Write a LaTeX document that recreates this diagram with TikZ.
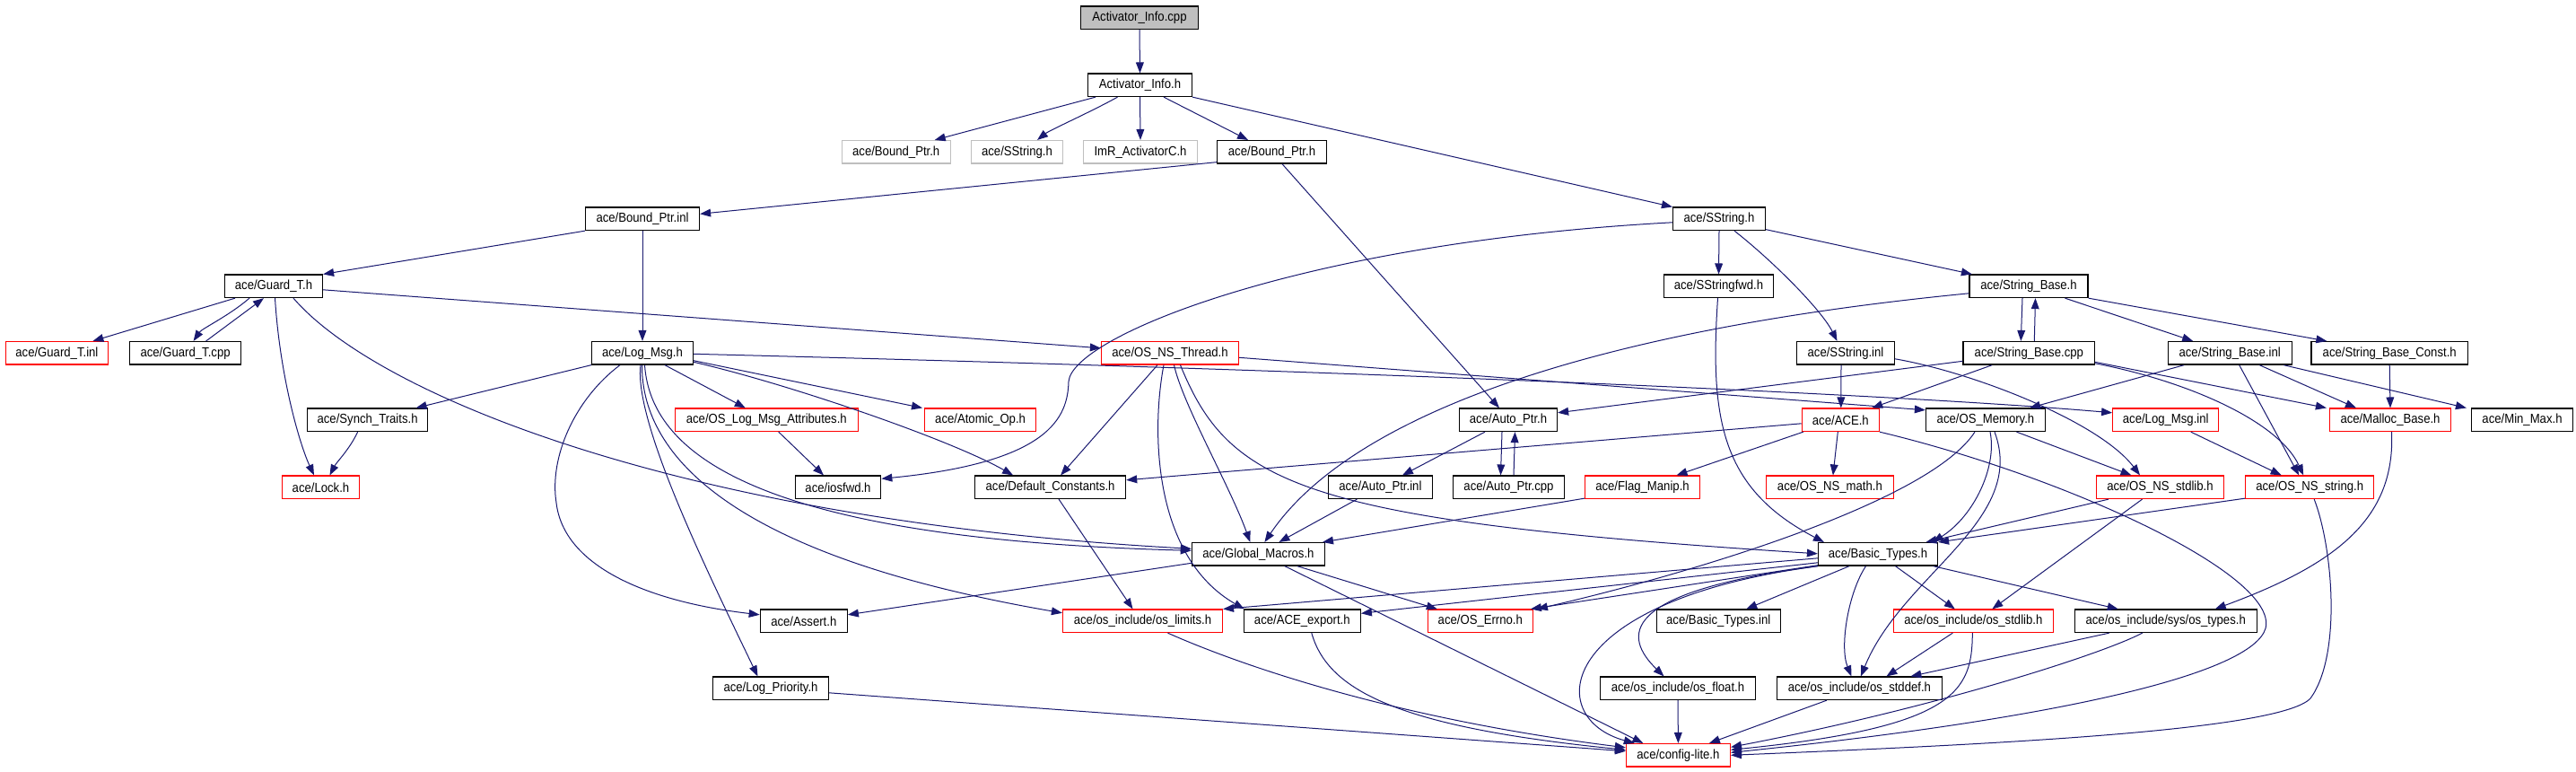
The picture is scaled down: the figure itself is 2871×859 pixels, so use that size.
\documentclass[tikz,border=0pt]{standalone}
\usepackage{fontspec}
\setmainfont{Liberation Sans}[FakeStretch=0.9]
\usetikzlibrary{arrows.meta,calc}
\definecolor{edgeblue}{HTML}{191970}
\definecolor{boxgray}{HTML}{BFBFBF}
\begin{document}
\begin{tikzpicture}[x=0.5pt,y=-0.5pt,
  box/.style={draw=black, line width=0.6pt, inner sep=0pt, minimum height=12.75pt, font=\fontsize{7.3}{8}\selectfont, text=black},
  gbox/.style={box, draw=boxgray},
  rbox/.style={box, draw=red},
  e/.style={draw=edgeblue, line width=0.5pt, -{Triangle[length=6pt,width=4.4pt]}}]
\useasboundingbox[fill=white] (0,0) rectangle (2871,859);
% row 0-1
\node[box, fill=boxgray, minimum width=65.5pt] (cpp) at (1270,19.8) {Activator\_Info.cpp};
\node[box, minimum width=58pt] (ah) at (1270.5,94.8) {Activator\_Info.h};
% row 2
\node[gbox, minimum width=60.5pt] (bphg) at (998.7,169.3) {ace/Bound\_Ptr.h};
\node[gbox, minimum width=51pt] (sshg) at (1133.5,169.3) {ace/SString.h};
\node[gbox, minimum width=63.5pt] (imr) at (1271,169.3) {ImR\_ActivatorC.h};
\node[box, minimum width=61pt] (bph) at (1417.5,169.3) {ace/Bound\_Ptr.h};
% row 3
\node[box, minimum width=63.5pt] (bpi) at (716,243.8) {ace/Bound\_Ptr.inl};
\node[box, minimum width=51.5pt] (ssh) at (1916,243.8) {ace/SString.h};
% row 4
\node[box, minimum width=54.5pt] (gth) at (305,318.8) {ace/Guard\_T.h};
\node[box, minimum width=61pt] (ssfwd) at (1915.5,318.8) {ace/SStringfwd.h};
\node[box, minimum width=66pt] (sbh) at (2261,318.8) {ace/String\_Base.h};
% row 5
\node[rbox, minimum width=57pt] (gti) at (63.4,393.3) {ace/Guard\_T.inl};
\node[box, minimum width=62pt] (gtc) at (206.6,393.3) {ace/Guard\_T.cpp};
\node[box, minimum width=56.5pt] (lmh) at (716,393.3) {ace/Log\_Msg.h};
\node[rbox, minimum width=76.5pt] (nst) at (1304,393.3) {ace/OS\_NS\_Thread.h};
\node[box, minimum width=54.5pt] (ssi) at (2057,393.3) {ace/SString.inl};
\node[box, minimum width=73.25pt] (sbc) at (2261.3,393.3) {ace/String\_Base.cpp};
\node[box, minimum width=69pt] (sbi) at (2485.2,393.3) {ace/String\_Base.inl};
\node[box, minimum width=87.25pt] (sbk) at (2663.2,393.3) {ace/String\_Base\_Const.h};
% row 6
\node[box, minimum width=67pt] (syt) at (409.6,467.8) {ace/Synch\_Traits.h};
\node[rbox, minimum width=102pt] (olma) at (854.3,467.8) {ace/OS\_Log\_Msg\_Attributes.h};
\node[rbox, minimum width=62pt] (aop) at (1092.6,467.8) {ace/Atomic\_Op.h};
\node[box, minimum width=54.5pt] (aph) at (1681,467.8) {ace/Auto\_Ptr.h};
\node[rbox, minimum width=43pt] (ace) at (2051.3,467.8) {ace/ACE.h};
\node[box, minimum width=66.5pt] (osm) at (2213,467.8) {ace/OS\_Memory.h};
\node[rbox, minimum width=59pt] (lmi) at (2413.7,467.8) {ace/Log\_Msg.inl};
\node[rbox, minimum width=67.5pt] (mal) at (2664,467.8) {ace/Malloc\_Base.h};
\node[box, minimum width=56.5pt] (mmx) at (2811,467.8) {ace/Min\_Max.h};
% row 7
\node[rbox, minimum width=43pt] (lock) at (357.5,542.8) {ace/Lock.h};
\node[box, minimum width=47.75pt] (iosf) at (934,542.8) {ace/iosfwd.h};
\node[box, minimum width=84pt] (dc) at (1170.6,542.8) {ace/Default\_Constants.h};
\node[box, minimum width=58pt] (api) at (1538.4,542.8) {ace/Auto\_Ptr.inl};
\node[box, minimum width=62pt] (apc) at (1681.5,542.8) {ace/Auto\_Ptr.cpp};
\node[rbox, minimum width=64pt] (flg) at (1830.5,542.8) {ace/Flag\_Manip.h};
\node[rbox, minimum width=71pt] (math) at (2039.4,542.8) {ace/OS\_NS\_math.h};
\node[rbox, minimum width=71pt] (stdl) at (2407.5,542.8) {ace/OS\_NS\_stdlib.h};
\node[rbox, minimum width=71.5pt] (strg) at (2574.2,542.8) {ace/OS\_NS\_string.h};
% row 8
\node[box, minimum width=74pt] (gm) at (1402.4,617.3) {ace/Global\_Macros.h};
\node[box, minimum width=66.5pt] (bt) at (2093,617.3) {ace/Basic\_Types.h};
% row 9
\node[box, minimum width=48.5pt] (ast) at (895.8,691.8) {ace/Assert.h};
\node[rbox, minimum width=89pt] (lim) at (1273.5,691.8) {ace/os\_include/os\_limits.h};
\node[box, minimum width=65pt] (exp) at (1451.3,691.8) {ace/ACE\_export.h};
\node[rbox, minimum width=58.5pt] (err) at (1649.8,691.8) {ace/OS\_Errno.h};
\node[box, minimum width=69pt] (bti) at (1915.2,691.8) {ace/Basic\_Types.inl};
\node[rbox, minimum width=89pt] (ostd) at (2199.3,691.8) {ace/os\_include/os\_stdlib.h};
\node[box, minimum width=101.5pt] (otyp) at (2413.7,691.8) {ace/os\_include/sys/os\_types.h};
% row 10
\node[box, minimum width=64.5pt] (lp) at (859,766.8) {ace/Log\_Priority.h};
\node[box, minimum width=86.5pt] (flt) at (1870,766.8) {ace/os\_include/os\_float.h};
\node[box, minimum width=92pt] (sdef) at (2072.4,766.8) {ace/os\_include/os\_stddef.h};
% row 11
\node[rbox, minimum width=58pt] (cfg) at (1870.4,841.3) {ace/config-lite.h};

% edges
\draw[e] (cpp.south) -- (ah.north);
\draw[e] ($(ah.south)+(-49.5,0)$) -- ($(bphg.north)+(43,0)$);
\draw[e] ($(ah.south)+(-25,0)$) .. controls (1215,125) and (1170,145) .. ($(sshg.north)+(22.5,0)$);
\draw[e] (ah.south) -- (imr.north);
\draw[e] ($(ah.south)+(26.5,0)$) -- ($(bph.north)+(-26.5,0)$);
\draw[e] (ah.south east) -- (ssh.north west);
\draw[e] ($(bph.south west)+(0,-2)$) -- ($(bpi.east)+(0,-5.5)$);
\draw[e] ($(bph.south)+(11.5,0)$) -- ($(aph.north)+(-10,0)$);
\draw[e] (bpi.south west) -- (gth.north east);
\draw[e] (bpi.south) -- (lmh.north);
\draw[e] ($(gth.south)+(-43,0)$) -- ($(gti.north)+(40,0)$);
\draw[e] ($(gth.south)+(-27,0)$) .. controls (255,352) and (225,366) .. ($(gtc.north)+(9,0)$);
\draw[e] ($(gtc.north)+(23,0)$) -- ($(gth.south)+(-11,0)$);
\draw[e] ($(gth.south)+(1.5,0)$) .. controls (312,420) and (334,495) .. ($(lock.north)+(-7.5,0)$);
\draw[e] ($(gth.south)+(22,0)$) .. controls (420,440) and (760,580) .. ($(gm.west)+(0,-6)$);
\draw[e] ($(gth.east)+(0,4)$) -- ($(nst.west)+(0,-5.5)$);
\draw[e] (lmh.south west) -- ($(syt.north)+(54,0)$);
\draw[e] ($(lmh.south)+(25,0)$) -- ($(olma.north)+(-23.5,0)$);
\draw[e] ($(lmh.east)+(0,8.4)$) -- ($(aop.north west)+(-2,0)$);
\draw[e] ($(lmh.east)+(0,10)$) .. controls (880,428) and (1060,490) .. ($(dc.north)+(-41.5,0)$);
\draw[e] ($(lmh.south)+(-25,0)$) .. controls (640,445) and (612,510) .. (620,560) .. controls (628,630) and (720,670) .. ($(ast.west)+(0,-7)$);
\draw[e] ($(lmh.south)+(-2,0)$) .. controls (706,470) and (790,640) .. ($(lp.north)+(-14.5,0)$);
\draw[e] ($(lmh.south)+(-0.5,0)$) .. controls (715,510) and (820,620) .. ($(lim.west)+(0,-9)$);
\draw[e] ($(lmh.south)+(2.5,0)$) .. controls (725,500) and (830,600) .. ($(gm.west)+(0,-4)$);
\draw[e] ($(lmh.east)+(0,1)$) .. controls (1600,415) and (2150,442) .. ($(lmi.west)+(0,-8)$);
\draw[e] ($(nst.east)+(0,5)$) -- ($(osm.west)+(0,-11)$);
\draw[e] ($(nst.south)+(-14,0)$) -- ($(dc.north)+(11.5,0)$);
\draw[e] ($(nst.south)+(4.5,0)$) .. controls (1318,450) and (1370,540) .. ($(gm.north)+(-9,0)$);
\draw[e] ($(nst.south)+(-7,0)$) .. controls (1283,480) and (1285,620) .. ($(exp.north west)+(1,0)$);
\draw[e] ($(nst.south)+(11.5,0)$) .. controls (1370,540) and (1450,580) .. ($(bt.west)+(0,-0.5)$);
\draw[e] ($(ssh.west)+(0,4)$) .. controls (1450,270) and (1195,375) .. (1191,425) .. controls (1190,465) and (1170,515) .. ($(iosf.east)+(0,-9.5)$);
\draw[e] (ssh.south) -- (ssfwd.north);
\draw[e] ($(ssh.south)+(17,0)$) .. controls (1975,290) and (2030,345) .. ($(ssi.north)+(-9.5,0)$);
\draw[e] ($(ssh.south east)+(0,-1.5)$) -- ($(sbh.north west)+(3.5,0)$);
\draw[e] ($(ssfwd.south)+(-1,0)$) .. controls (1905,470) and (1920,545) .. ($(bt.north west)+(7,0)$);
\draw[e] ($(sbh.west)+(0,8)$) .. controls (1750,370) and (1500,470) .. ($(gm.north)+(7,0)$);
\draw[e] ($(sbh.south)+(-7,0)$) -- ($(sbc.north)+(-9,0)$);
\draw[e] ($(sbc.north)+(6,0)$) -- ($(sbh.south)+(7.5,0)$);
\draw[e] ($(sbh.south)+(40.5,0)$) -- ($(sbi.north)+(-41,0)$);
\draw[e] (sbh.south east) -- ($(sbk.north west)+(18,0)$);
\draw[e] ($(sbc.west)+(0,9)$) -- ($(aph.east)+(0,-8)$);
\draw[e] ($(sbc.south)+(-41,0)$) -- ($(ace.north)+(35,0)$);
\draw[e] ($(sbc.east)+(0,11.5)$) .. controls (2440,425) and (2540,470) .. ($(strg.north)+(-7,0)$);
\draw[e] ($(sbc.east)+(0,10)$) -- ($(mal.north west)+(-3,0)$);
\draw[e] ($(ssi.south)+(-5,0)$) -- ($(ace.north)+(0.5,0)$);
\draw[e] ($(ssi.east)+(0,6.5)$) .. controls (2200,415) and (2340,470) .. ($(stdl.north)+(-22.5,0)$);
\draw[e] ($(sbi.south)+(-51,0)$) -- ($(osm.north)+(49,0)$);
\draw[e] ($(sbi.south)+(10.5,0)$) -- ($(strg.north)+(-12,0)$);
\draw[e] ($(sbi.south)+(33,0)$) -- ($(mal.north)+(-38,0)$);
\draw[e] ($(sbi.south)+(60,0)$) -- ($(mmx.north west)+(-5,0)$);
\draw[e] (sbk.south) -- (mal.north);
\draw[e] ($(aph.south)+(-26,0)$) -- ($(api.north)+(24.5,0)$);
\draw[e] ($(aph.south)+(-7,0)$) -- ($(apc.north)+(-9,0)$);
\draw[e] ($(apc.north)+(5.5,0)$) -- ($(aph.south)+(7.5,0)$);
\draw[e] ($(api.south)+(-26,0)$) -- ($(gm.north)+(23,0)$);
\draw[e] ($(ace.west)+(0,4)$) -- ($(dc.east)+(0,-8)$);
\draw[e] ($(ace.south west)+(2,0)$) -- ($(flg.north)+(38,0)$);
\draw[e] ($(ace.south)+(-3,0)$) -- ($(math.north)+(3.5,0)$);
\draw[e] (ace.south east) .. controls (2300,530) and (2540,640) .. (2525,700) .. controls (2510,750) and (2300,800) .. ($(cfg.east)+(0,-3)$);
\draw[e] ($(flg.south west)+(0,-1)$) -- ($(gm.north east)+(-3,0)$);
\draw[e] ($(gm.west)+(0,10)$) -- ($(ast.east)+(0,-7)$);
\draw[e] ($(gm.south)+(43.5,0)$) -- ($(err.north)+(-48,0)$);
\draw[e] ($(gm.south)+(29.5,0)$) -- ($(cfg.north)+(-39,0)$);
\draw[e] ($(bt.west)+(0,4.5)$) -- (lim.north east);
\draw[e] ($(bt.west)+(0,9.5)$) -- ($(exp.east)+(0,-8.5)$);
\draw[e] ($(bt.south west)+(0,-1)$) -- ($(err.north east)+(-3,0)$);
\draw[e] ($(bt.south)+(-32,0)$) -- ($(bti.north)+(31,0)$);
\draw[e] (bt.south west) .. controls (1800,660) and (1810,710) .. ($(flt.north)+(-15.5,0)$);
\draw[e] (bt.south west) .. controls (1730,670) and (1720,800) .. ($(cfg.north west)+(10,0)$);
\draw[e] ($(bt.south)+(-13.5,0)$) .. controls (2060,660) and (2050,720) .. ($(sdef.north)+(-9,0)$);
\draw[e] ($(bt.south)+(19.5,0)$) -- ($(ostd.north)+(-20.5,0)$);
\draw[e] ($(bt.south east)+(-5.5,0)$) -- ($(otyp.north)+(-53,0)$);
\draw[e] ($(osm.south)+(34.5,0)$) -- ($(stdl.north)+(-32,0)$);
\draw[e] ($(osm.south)+(5,0)$) .. controls (2226,520) and (2200,575) .. ($(bt.north)+(61,0)$);
\draw[e] ($(osm.south)+(10,0)$) .. controls (2260,580) and (2120,640) .. ($(sdef.north)+(1.5,0)$);
\draw[e] ($(osm.south)+(-12,0)$) .. controls (2150,560) and (1880,640) .. ($(err.north east)+(4,0)$);
\draw[e] ($(lmi.south)+(28,0)$) -- ($(strg.north)+(-31.5,0)$);
\draw[e] ($(stdl.south west)+(14,0)$) -- ($(bt.north)+(53.5,0)$);
\draw[e] ($(strg.south west)+(0,-1)$) -- (bt.north east);
\draw[e] ($(stdl.south)+(-20,0)$) -- ($(ostd.north)+(21,0)$);
\draw[e] ($(strg.south)+(5,0)$) .. controls (2600,610) and (2610,730) .. (2575,778) .. controls (2540,815) and (2200,830) .. (cfg.east);
\draw[e] ($(mal.south)+(1.5,0)$) .. controls (2670,580) and (2600,630) .. ($(otyp.north)+(55,0)$);
\draw[e] ($(ostd.south)+(-23,0)$) -- ($(sdef.north)+(30,0)$);
\draw[e] ($(otyp.south)+(-63,0)$) -- ($(sdef.north)+(57,0)$);
\draw[e] ($(ostd.south)+(-1,0)$) .. controls (2198,770) and (2180,810) .. ($(cfg.east)+(0,-6)$);
\draw[e] ($(otyp.south)+(-26,0)$) .. controls (2340,730) and (2150,790) .. ($(cfg.east)+(0,-9)$);
\draw[e] ($(exp.south)+(10.5,0)$) .. controls (1480,770) and (1560,810) .. ($(cfg.west)+(0,-6)$);
\draw[e] ($(lim.south)+(28,0)$) .. controls (1380,740) and (1550,800) .. ($(cfg.west)+(0,-8.5)$);
\draw[e] ($(lp.east)+(0,5)$) -- ($(cfg.west)+(0,-4.5)$);
\draw[e] ($(sdef.south)+(-36.5,0)$) -- ($(cfg.north)+(34.5,0)$);
\draw[e] (flt.south) -- (cfg.north);
\draw[e] ($(olma.south)+(13.5,0)$) -- ($(iosf.north)+(-16,0)$);
\draw[e] ($(syt.south)+(-11,0)$) .. controls (390,500) and (375,515) .. ($(lock.north)+(10,0)$);
\draw[e] ($(dc.south)+(9.5,0)$) -- ($(lim.north)+(-11,0)$);
\end{tikzpicture}
\end{document}
